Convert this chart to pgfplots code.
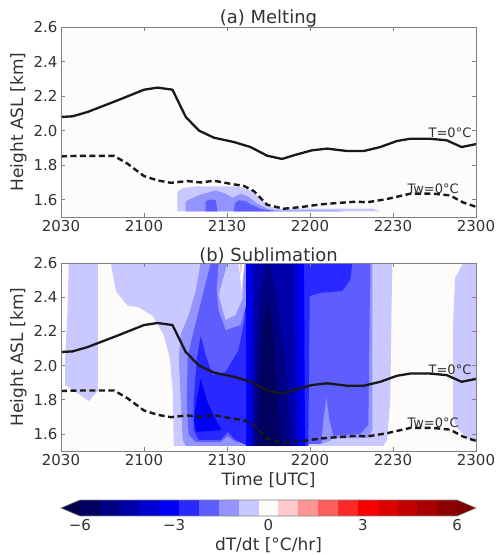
\documentclass[border=0pt]{standalone}
\usepackage{fontspec}
\setmainfont{DejaVu Sans}
\usepackage{pgfplots}
\pgfplotsset{compat=1.18}
\definecolor{c0}{RGB}{0,0,95}
\definecolor{c1}{RGB}{0,0,133}
\definecolor{c2}{RGB}{0,0,170}
\definecolor{c3}{RGB}{0,0,208}
\definecolor{c4}{RGB}{0,0,246}
\definecolor{c5}{RGB}{40,40,255}
\definecolor{c6}{RGB}{94,94,255}
\definecolor{c7}{RGB}{148,148,255}
\definecolor{c8}{RGB}{201,201,255}
\definecolor{c9}{RGB}{254,251,251}
\definecolor{c10}{RGB}{255,201,201}
\definecolor{c11}{RGB}{255,148,148}
\definecolor{c12}{RGB}{255,94,94}
\definecolor{c13}{RGB}{255,40,40}
\definecolor{c14}{RGB}{248,0,0}
\definecolor{c15}{RGB}{221,0,0}
\definecolor{c16}{RGB}{195,0,0}
\definecolor{c17}{RGB}{168,0,0}
\definecolor{c18}{RGB}{141,0,0}
\definecolor{cunder}{RGB}{0,0,77}
\definecolor{cover}{RGB}{128,0,0}
\definecolor{txt}{RGB}{50,50,50}
\tikzset{clab/.style={font=\fontsize{13}{15}\selectfont, text=txt}}
\pgfplotsset{
  panel/.style={
    scale only axis, width=415pt,
    xmin=0, xmax=150, ymin=1.5, ymax=2.6,
    xtick={0,30,60,90,120,150},
    xticklabels={2030,2100,2130,2200,2230,2300},
    ytick={1.6,1.8,2.0,2.2,2.4,2.6},
    yticklabel style={/pgf/number format/.cd, fixed, fixed zerofill, precision=1},
    /pgf/number format/assume math mode=true,
    tick align=inside, tick pos=both,
    major tick length=4pt,
    axis line style={draw=black!50, line width=0.8pt},
    every tick/.style={black!50, line width=0.6pt},
    tick label style={font=\fontsize{15}{18}\selectfont, text=txt},
    label style={font=\fontsize{17}{20}\selectfont, text=txt},
    title style={font=\fontsize{18}{21}\selectfont, text=txt, yshift=-10pt},
    ylabel={Height ASL [km]},
    axis background/.style={fill=c9},
    axis on top,
  },
  tline/.style={black!90, line width=2.3pt, line join=round},
  twline/.style={black!90, line width=2.4pt, dash pattern=on 6pt off 3.5pt},
}
\begin{document}
\begin{tikzpicture}
\useasboundingbox (0pt,0pt) rectangle (497pt,-555pt);
% ---------------- panel (a)
\begin{axis}[panel, at={(61pt,-217pt)}, anchor=south west, height=190pt, title={(a) Melting}]
\addplot[fill=c8, draw=none] coordinates {(42.08,1.533)(42.08,1.645)(43.89,1.668)(49.30,1.678)(63.72,1.678)(68.52,1.654)(72.12,1.606)(75.73,1.558)(79.34,1.548)(112.87,1.548)(115.4,1.533)(42.08,1.533)};
\addplot[fill=c7, draw=none] coordinates {(45.08,1.533)(45.08,1.591)(50.49,1.630)(55.9,1.654)(59.5,1.635)(61.92,1.610)(64.91,1.635)(67.9,1.616)(70.93,1.577)(74.54,1.548)(78.15,1.539)(100,1.539)(102,1.533)(45.08,1.533)};
\addplot[fill=c6, draw=none] coordinates {(52.29,1.533)(52.29,1.591)(54.1,1.602)(55.9,1.596)(56.6,1.533)(52.29,1.533)};
\addplot[fill=c6, draw=none] coordinates {(62.5,1.533)(62.75,1.577)(64.3,1.598)(66.7,1.591)(68.5,1.574)(72.12,1.548)(76.92,1.533)(62.5,1.533)};
\addplot[tline] coordinates {(0,2.079)(4.2,2.083)(9.6,2.108)(20.4,2.175)(30,2.237)(34.9,2.249)(40.3,2.237)(45.1,2.079)(49.9,2.0)(55.3,1.959)(62.5,1.934)(68.5,1.905)(74.5,1.855)(79.9,1.836)(84.1,1.857)(90.7,1.886)(96.2,1.896)(103.4,1.882)(109.4,1.882)(115.4,1.905)(121.4,1.940)(126.2,1.953)(133.4,1.953)(139.4,1.944)(144.8,1.905)(150,1.922)};
\addplot[twline] coordinates {(0,1.851)(6,1.854)(19.2,1.854)(24,1.809)(30,1.737)(34.9,1.712)(39.7,1.698)(45.7,1.708)(50.5,1.700)(55.3,1.710)(61.3,1.692)(66.1,1.680)(69.7,1.650)(74.5,1.571)(80.5,1.548)(86.5,1.557)(93.8,1.573)(99.8,1.581)(107,1.589)(110.6,1.585)(117.8,1.604)(126.2,1.635)(134.6,1.635)(140.6,1.625)(145.4,1.584)(150,1.559)};
\node[clab] at (axis cs:140.6,1.985) {T=0°C};
\node[clab] at (axis cs:134.5,1.666) {Tw=0°C};
\end{axis}
% ---------------- panel (b)
\begin{axis}[panel, at={(61pt,-451pt)}, anchor=south west, height=188pt, title={(b) Sublimation}, xlabel={Time [UTC]}]
\addplot[fill=c8, draw=none] coordinates {(2.8,2.6)(13.34,2.6)(13.34,1.851)(10.10,1.793)(1.5,1.887)(1.5,2.044)(2.4,2.337)(2.8,2.6)};
\addplot[fill=c8, draw=none] coordinates {(18.03,2.6)(19.83,2.436)(24.16,2.349)(27.77,2.343)(33.18,2.290)(37.14,2.179)(39.31,2.044)(40.39,1.851)(40.75,1.53)(116.48,1.53)(117.92,1.565)(119.0,1.799)(119.73,2.6)(18.03,2.6)};
\addplot[fill=c8, draw=none] coordinates {(150,2.6)(145.33,2.6)(142.44,2.512)(141.72,2.237)(141.72,1.694)(143.16,1.635)(146.77,1.577)(150,1.565)(150,2.6)};
\addplot[fill=c7, draw=none] coordinates {(50.49,2.6)(48.68,2.436)(46.16,2.296)(43.27,2.179)(42.55,2.044)(43.27,1.799)(44.0,1.565)(45.08,1.53)(88.0,1.53)(90,1.570)(111.0,1.577)(112.51,1.62)(112.51,2.6)(50.49,2.6)};
\addplot[fill=c6, draw=none] coordinates {(54.09,2.6)(51.57,2.436)(49.41,2.296)(47.6,2.179)(45.8,2.044)(45.44,1.799)(46.16,1.594)(48.68,1.553)(57.7,1.553)(60.22,1.588)(63.11,1.553)(67.44,1.542)(93.76,1.542)(97.37,1.588)(108.18,1.600)(111.07,1.653)(111.79,2.6)(54.09,2.6)};
\addplot[fill=c7, draw=none] coordinates {(94.12,1.542)(94.84,1.682)(95.92,1.811)(97.01,1.682)(98.45,1.588)(97.37,1.560)(94.12,1.542)};
\addplot[fill=c5, draw=none] coordinates {(66.71,2.6)(105.3,2.6)(104.58,2.501)(101.7,2.436)(93.76,2.425)(89.9,2.407)(89.4,1.53)(67.44,1.53)(63.11,1.565)(60.22,1.612)(57.7,1.565)(49.77,1.565)(47.96,1.623)(47.96,1.799)(49.04,2.033)(50.49,2.173)(52.29,2.062)(54.81,1.945)(59.5,1.963)(64.19,2.091)(66.35,2.267)(66.71,2.6)};
\addplot[fill=c7, draw=none] coordinates {(56.98,2.6)(67.44,2.6)(67.44,2.384)(64.91,2.237)(59.5,2.208)(56.98,2.325)(56.26,2.442)(56.98,2.6)};
\addplot[fill=c8, draw=none] coordinates {(60.22,2.6)(65.99,2.6)(65.63,2.395)(63.11,2.296)(59.5,2.267)(56.98,2.413)(60.22,2.6)};
\addplot[fill=c9, draw=none] coordinates {(64.19,2.6)(66.35,2.6)(65.27,2.442)(64.19,2.6)};
\addplot[fill=c10, draw=none] coordinates {(64.55,2.6)(65.63,2.6)(64.91,2.53)(64.55,2.6)};
\addplot[fill=c4, draw=none] coordinates {(50.49,1.922)(52.65,1.799)(55.54,1.694)(58.06,1.623)(49.04,1.612)(47.96,1.682)(49.04,1.799)(50.49,1.922)};
\addplot[fill=c4, draw=none] coordinates {(66.9,2.6)(87.8,2.6)(88.2,1.53)(66.9,1.53)(66.9,2.6)};
\addplot[fill=c3, draw=none] coordinates {(68.6,2.6)(85.5,2.6)(86.2,1.53)(68.2,1.53)(68.6,2.6)};
\addplot[fill=c2, draw=none] coordinates {(70.0,2.6)(83.8,2.6)(84.9,1.53)(69.3,1.53)(70.0,2.6)};
\addplot[fill=c1, draw=none] coordinates {(73.8,2.6)(75.6,2.6)(78.2,2.384)(81.2,2.033)(83.0,1.53)(69.8,1.53)(70.3,1.916)(71.5,2.384)(73.8,2.6)};
\addplot[fill=c0, draw=none] coordinates {(74.6,2.40)(76.6,2.208)(77.8,1.916)(79.6,1.53)(71.0,1.53)(71.6,1.916)(72.6,2.208)(74.6,2.40)};
\addplot[tline] coordinates {(0,2.079)(4.2,2.083)(9.6,2.108)(20.4,2.175)(30,2.237)(34.9,2.249)(40.3,2.237)(45.1,2.079)(49.9,2.0)(55.3,1.959)(62.5,1.934)(68.5,1.905)(74.5,1.855)(79.9,1.836)(84.1,1.857)(90.7,1.886)(96.2,1.896)(103.4,1.882)(109.4,1.882)(115.4,1.905)(121.4,1.940)(126.2,1.953)(133.4,1.953)(139.4,1.944)(144.8,1.905)(150,1.922)};
\addplot[twline] coordinates {(0,1.851)(6,1.854)(19.2,1.854)(24,1.809)(30,1.737)(34.9,1.712)(39.7,1.698)(45.7,1.708)(50.5,1.700)(55.3,1.710)(61.3,1.692)(66.1,1.680)(69.7,1.650)(74.5,1.571)(80.5,1.548)(86.5,1.557)(93.8,1.573)(99.8,1.581)(107,1.589)(110.6,1.585)(117.8,1.604)(126.2,1.635)(134.6,1.635)(140.6,1.625)(145.4,1.584)(150,1.559)};
\node[clab] at (axis cs:140.6,1.976) {T=0°C};
\node[clab] at (axis cs:134.5,1.664) {Tw=0°C};
\end{axis}
\begin{axis}[scale only axis, width=415pt, height=16pt, at={(61pt,-516pt)}, anchor=south west,
  xmin=-6.6, xmax=6.6, ymin=0, ymax=1, hide y axis,
  axis line style={draw=none}, major tick length=0pt,
  xtick={-6,-3,0,3,6}, xticklabels={−6,−3,0,3,6},
  tick label style={font=\fontsize{15}{18}\selectfont, text=txt},
  label style={font=\fontsize{17}{20}\selectfont, text=txt},
  xlabel={dT/dt [°C/hr]}, clip=false]
\addplot[fill=cunder, draw=none] coordinates {(-6,0)(-6.6,0.5)(-6,1)(-6,0)};
\addplot[fill=c0, draw=none] coordinates {(-6,0)(-5.3684,0)(-5.3684,1)(-6,1)};
\addplot[fill=c1, draw=none] coordinates {(-5.3684,0)(-4.7368,0)(-4.7368,1)(-5.3684,1)};
\addplot[fill=c2, draw=none] coordinates {(-4.7368,0)(-4.1053,0)(-4.1053,1)(-4.7368,1)};
\addplot[fill=c3, draw=none] coordinates {(-4.1053,0)(-3.4737,0)(-3.4737,1)(-4.1053,1)};
\addplot[fill=c4, draw=none] coordinates {(-3.4737,0)(-2.8421,0)(-2.8421,1)(-3.4737,1)};
\addplot[fill=c5, draw=none] coordinates {(-2.8421,0)(-2.2105,0)(-2.2105,1)(-2.8421,1)};
\addplot[fill=c6, draw=none] coordinates {(-2.2105,0)(-1.5789,0)(-1.5789,1)(-2.2105,1)};
\addplot[fill=c7, draw=none] coordinates {(-1.5789,0)(-0.9474,0)(-0.9474,1)(-1.5789,1)};
\addplot[fill=c8, draw=none] coordinates {(-0.9474,0)(-0.3158,0)(-0.3158,1)(-0.9474,1)};
\addplot[fill=c9, draw=none] coordinates {(-0.3158,0)(0.3158,0)(0.3158,1)(-0.3158,1)};
\addplot[fill=c10, draw=none] coordinates {(0.3158,0)(0.9474,0)(0.9474,1)(0.3158,1)};
\addplot[fill=c11, draw=none] coordinates {(0.9474,0)(1.5789,0)(1.5789,1)(0.9474,1)};
\addplot[fill=c12, draw=none] coordinates {(1.5789,0)(2.2105,0)(2.2105,1)(1.5789,1)};
\addplot[fill=c13, draw=none] coordinates {(2.2105,0)(2.8421,0)(2.8421,1)(2.2105,1)};
\addplot[fill=c14, draw=none] coordinates {(2.8421,0)(3.4737,0)(3.4737,1)(2.8421,1)};
\addplot[fill=c15, draw=none] coordinates {(3.4737,0)(4.1053,0)(4.1053,1)(3.4737,1)};
\addplot[fill=c16, draw=none] coordinates {(4.1053,0)(4.7368,0)(4.7368,1)(4.1053,1)};
\addplot[fill=c17, draw=none] coordinates {(4.7368,0)(5.3684,0)(5.3684,1)(4.7368,1)};
\addplot[fill=c18, draw=none] coordinates {(5.3684,0)(6,0)(6,1)(5.3684,1)};
\addplot[fill=cover, draw=none] coordinates {(6,0)(6.6,0.5)(6,1)(6,0)};
\addplot[draw=black!50, line width=0.6pt] coordinates {(-6,0)(6,0)(6.6,0.5)(6,1)(-6,1)(-6.6,0.5)(-6,0)};
\end{axis}
\end{tikzpicture}
\end{document}
